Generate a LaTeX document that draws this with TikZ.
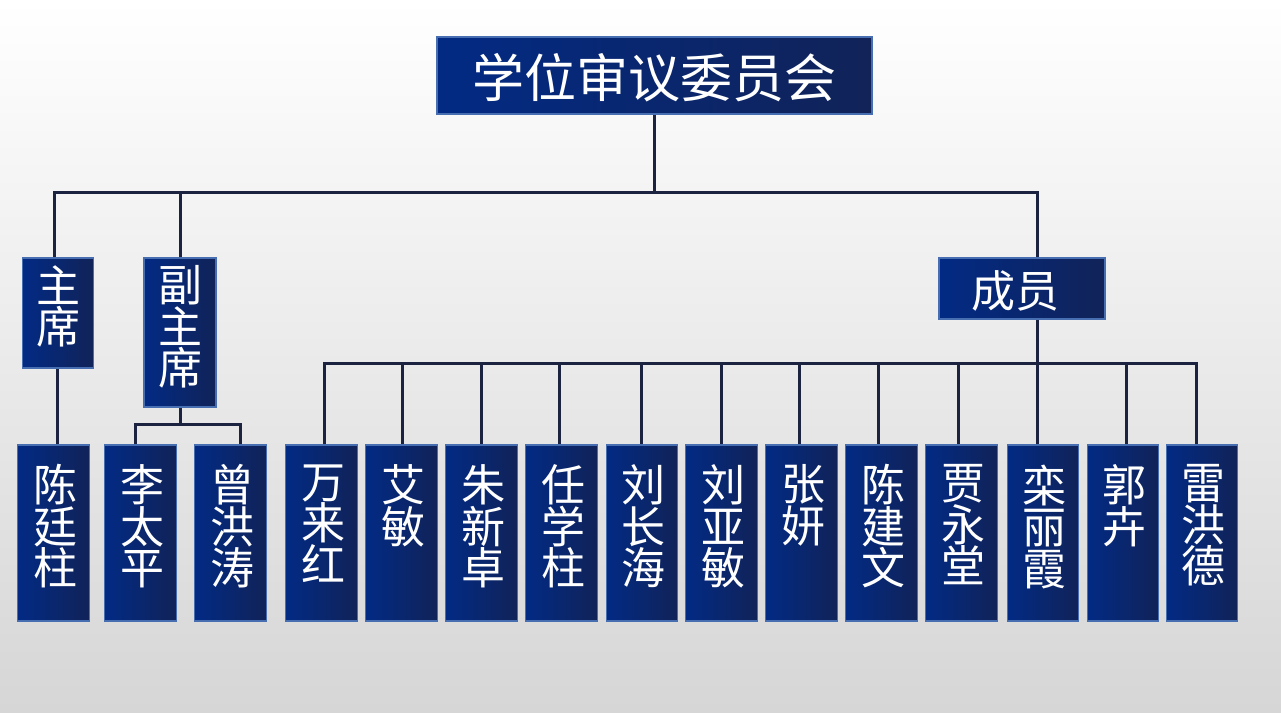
\documentclass[tikz,border=0pt]{standalone}
\usepackage{fontspec}
\newfontfamily\cjk{Noto Sans CJK SC}
\usetikzlibrary{calc,backgrounds}
\definecolor{boxL}{RGB}{2,42,132}
\definecolor{boxR}{RGB}{17,35,88}
\definecolor{boxB}{RGB}{72,110,178}
\definecolor{lineC}{RGB}{28,35,64}
\definecolor{bgMid}{RGB}{243,243,243}
\definecolor{bgBot}{RGB}{214,214,214}
\begin{document}
\begin{tikzpicture}[x=1pt,y=-1pt,
  orgbox/.style={draw=boxB,line width=1.2pt,left color=boxL,right color=boxR,inner sep=0pt},
  namebox/.style={orgbox,minimum width=71.5pt,minimum height=176pt},
  lbl/.style={text=white,font=\cjk\fontsize{44pt}{41.5pt}\selectfont,align=center,inner sep=0pt},
  ttl/.style={text=white,font=\cjk\fontsize{52pt}{56pt}\selectfont,inner sep=0pt},
  conn/.style={draw=lineC,line width=3pt}]
\useasboundingbox (0,0) rectangle (1281,712);
% title
\node[orgbox,minimum width=435pt,minimum height=77pt] (T) at (654.5,75.5) {};
\node[ttl] (Tt) at ($(T.center)+(0,2)$) {学位审议委员会};
% level 2
\node[orgbox,minimum width=71.5pt,minimum height=110pt] (c1) at (58,313) {};
\node[lbl,anchor=north] (c1t) at ($(c1.north)+(0,8)$) {主\\席};
\node[orgbox,minimum width=72pt,minimum height=149pt] (v) at (180,332.5) {};
\node[lbl,anchor=north] (vt) at ($(v.north)+(0,8)$) {副\\主\\席};
\node[orgbox,minimum width=166pt,minimum height=61pt] (m) at (1022,288.5) {};
\node[lbl,anchor=center] (mt) at ($(m.center)+(-7,2)$) {成员};
% bottom level
\foreach \i/\cx/\nm in {1/53.5/{陈\\廷\\柱},2/140.5/{李\\太\\平},3/230.5/{曾\\洪\\涛},
  4/321.5/{万\\来\\红},5/401.5/{艾\\敏},6/481.5/{朱\\新\\卓},7/561.5/{任\\学\\柱},
  8/642/{刘\\长\\海},9/721.5/{刘\\亚\\敏},10/801.5/{张\\妍},11/881.5/{陈\\建\\文},
  12/961.5/{贾\\永\\堂},13/1043/{栾\\丽\\霞},14/1123/{郭\\卉},15/1202/{雷\\洪\\德}}{
  \node[namebox] (b\i) at (\cx,533) {};
  \node[lbl,anchor=north] (n\i) at ($(b\i.north)+(1.5,20)$) {\nm};
}
% bus coordinates
\coordinate (busT) at (0,192);
\coordinate (busV) at (0,424);
\coordinate (busM) at (0,363);
\coordinate (c1top) at ($(c1.north)+(-4,0)$);
\coordinate (c1bot) at ($(c1.south)+(-1,0)$);
\coordinate (mtop) at ($(m.north)+(15,0)$);
\coordinate (mbot) at ($(m.south)+(15,0)$);
\coordinate (a1) at ($(b1.north)+(3.5,0)$);
\coordinate (a2) at ($(b2.north)+(-5.5,0)$);
\coordinate (a3) at ($(b3.north)+(9.5,0)$);
\foreach \i/\dx in {4/2.5,5/0.5,6/-0.5,7/-2.5,8/-1,9/-0.5,10/-2.5,11/-3.5,12/-3.5,13/-6,14/3,15/-6}{
  \coordinate (a\i) at ($(b\i.north)+(\dx,0)$);
}
\begin{scope}[on background layer]
\shade[top color=white,middle color=bgMid,bottom color=bgBot] (0,0) rectangle (1281,712);
\draw[conn] (T.south) -- (T.south |- busT);
\draw[conn] (c1top) -- (c1top |- busT) -- (mtop |- busT) -- (mtop);
\draw[conn] (v.north) -- (v.north |- busT);
\draw[conn] (c1bot) -- (c1bot |- b1.north);
\draw[conn] (v.south) -- (v.south |- busV);
\draw[conn] (a2) -- (a2 |- busV) -- (a3 |- busV) -- (a3);
\draw[conn] (mbot) -- (mbot |- busM);
\draw[conn] (a4) -- (a4 |- busM) -- (a15 |- busM) -- (a15);
\foreach \i in {5,...,14}{
  \draw[conn] (a\i) -- (a\i |- busM);
}
\end{scope}
\end{tikzpicture}
\end{document}
